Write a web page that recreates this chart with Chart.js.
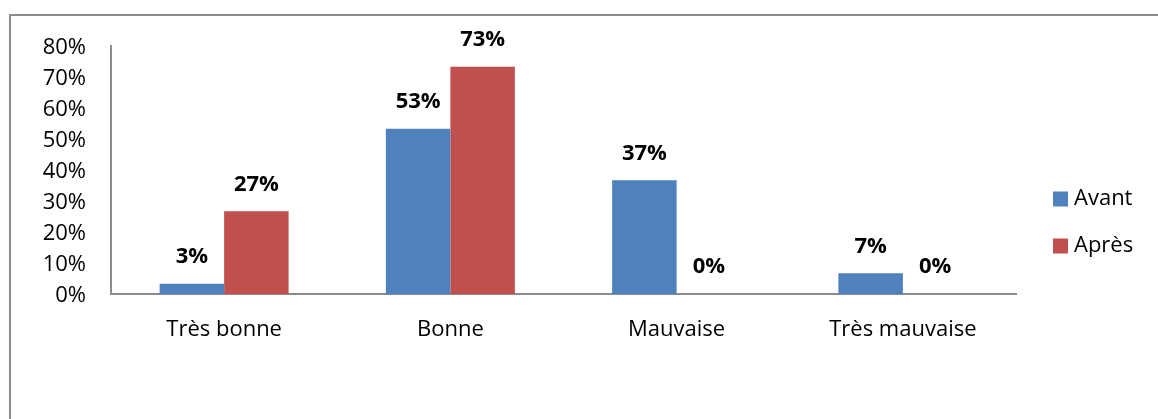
<!DOCTYPE html>
<html>
<head>
<meta charset="utf-8">
<script src="https://cdn.jsdelivr.net/npm/chart.js@4/dist/chart.umd.min.js"></script>
<style>
  html, body { margin: 0; padding: 0; background: #fff; }
  #wrap { position: relative; width: 1158px; height: 419px; overflow: hidden; }
  #frame { position: absolute; left: 9px; top: 14px; width: 1300px; height: 600px;
           border-top: 2px solid #8c8c8c; border-left: 2px solid #8c8c8c; pointer-events: none; }
  canvas { position: absolute; left: 0; top: 0; }
</style>
</head>
<body>
<div id="wrap">
  <canvas id="c" width="1158" height="419"></canvas>
  <div id="frame"></div>
</div>
<script>
const categories = ["Très bonne", "Bonne", "Mauvaise", "Très mauvaise"];
const seriesNames = ["Avant", "Après"];
const avantValues = [3.33, 53.33, 36.67, 6.67];
const apresValues = [26.67, 73.33, 0, 0];
const yTicks = [0, 10, 20, 30, 40, 50, 60, 70, 80];
const seriesColors = ["#4F81BD", "#C0504D"];

const FONT = "'Open Sans', Lato, sans-serif";
const FSIZE = 22;

const labelPlugin = {
  id: 'barLabels',
  afterDatasetsDraw(chart) {
    const ctx = chart.ctx;
    ctx.save();
    ctx.font = "bold " + FSIZE + "px " + FONT;
    ctx.fillStyle = "#000";
    ctx.textAlign = "center";
    ctx.textBaseline = "middle";
    chart.data.datasets.forEach((ds, i) => {
      const meta = chart.getDatasetMeta(i);
      meta.data.forEach((bar, j) => {
        ctx.fillText(Math.round(ds.data[j]) + "%", bar.x, bar.y - 27);
      });
    });
    ctx.restore();
  }
};

const legendPlugin = {
  id: 'sideLegend',
  afterDraw(chart) {
    const ctx = chart.ctx;
    ctx.save();
    ctx.font = FSIZE + "px " + FONT;
    ctx.textAlign = "left";
    ctx.textBaseline = "middle";
    chart.data.datasets.forEach((ds, i) => {
      const cy = 199 + i * 47;
      ctx.fillStyle = ds.backgroundColor;
      ctx.fillRect(1053, cy - 7.5, 15, 15);
      ctx.fillStyle = "#000";
      ctx.fillText(ds.label, 1074, cy);
    });
    ctx.restore();
  }
};

new Chart(document.getElementById('c'), {
  type: 'bar',
  data: {
    labels: categories,
    datasets: [
      { label: seriesNames[0], data: avantValues, backgroundColor: seriesColors[0] },
      { label: seriesNames[1], data: apresValues, backgroundColor: seriesColors[1] }
    ]
  },
  options: {
    responsive: false,
    animation: false,
    devicePixelRatio: 1,
    layout: { padding: { left: 0, right: 142, top: 46, bottom: 0 } },
    datasets: { bar: { barPercentage: 1, categoryPercentage: 0.57 } },
    plugins: { legend: { display: false }, tooltip: { enabled: false } },
    scales: {
      x: {
        grid: { display: false, drawTicks: false },
        border: { display: true, color: '#8c8c8c', width: 2 },
        ticks: { color: '#000', font: { family: FONT, size: FSIZE }, padding: 23, maxRotation: 0 },
        afterFit(scale) { scale.height = 125; }
      },
      y: {
        min: 0, max: 80,
        grid: { display: false, drawTicks: false },
        border: { display: true, color: '#8c8c8c', width: 2 },
        afterBuildTicks(scale) { scale.ticks = yTicks.map(v => ({ value: v })); },
        ticks: { color: '#000', font: { family: FONT, size: FSIZE }, padding: 25, labelOffset: 1.5,
                 callback: v => v + '%' },
        afterFit(scale) { scale.width = 111; }
      }
    }
  },
  plugins: [labelPlugin, legendPlugin]
});
</script>
</body>
</html>
